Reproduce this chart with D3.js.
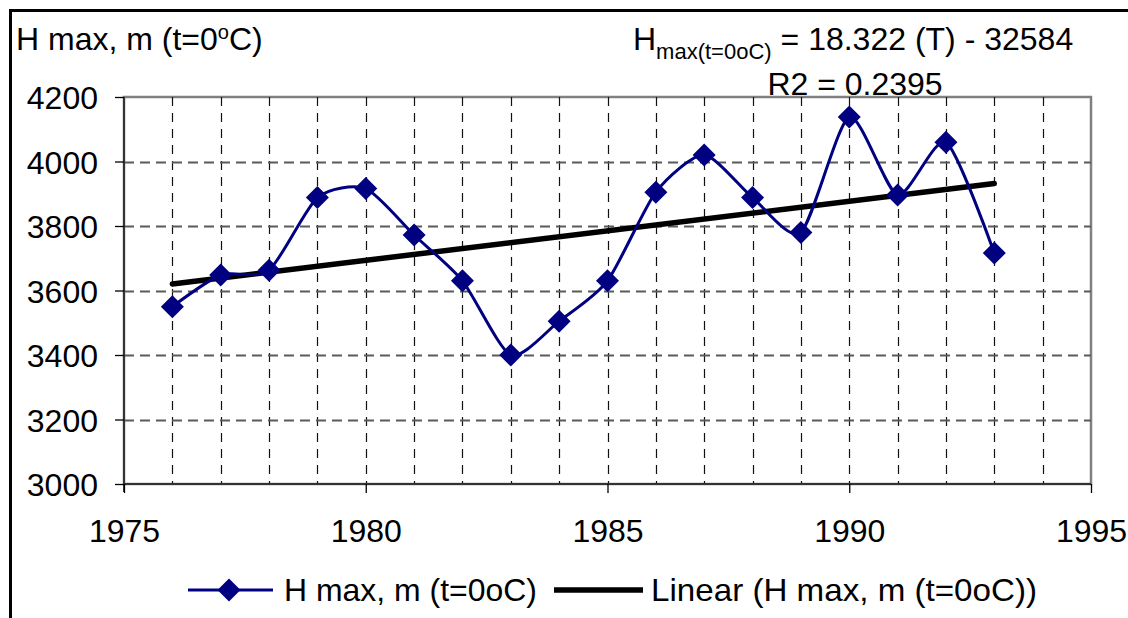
<!DOCTYPE html>
<html>
<head>
<meta charset="utf-8">
<script src="https://cdn.jsdelivr.net/npm/d3@7"></script>
<style>
  body { margin: 0; background: #fff; }
  svg text { font-family: "Liberation Sans", Arial, sans-serif; fill: #000; }
</style>
</head>
<body>
<svg id="chart" width="1128" height="618"></svg>
<script>
// data
const years = [1976, 1977, 1978, 1979, 1980, 1981, 1982, 1983, 1984, 1985,
               1986, 1987, 1988, 1989, 1990, 1991, 1992, 1993];
const hmax = [3550, 3648, 3663, 3888, 3916, 3772, 3630, 3400, 3505, 3630,
              3905, 4020, 3888, 3780, 4138, 3896, 4060, 3716];
const trendSlope = 18.322;
const trendIntercept = -32584;
const yTicks = [3000, 3200, 3400, 3600, 3800, 4000, 4200];
const xTicks = [1975, 1980, 1985, 1990, 1995];
const xMinor = d3.range(1976, 1995);

const svg = d3.select("#chart");
const W = 1128, H = 618;
const plot = { left: 124, right: 1091, top: 97, bottom: 484 };

const x = d3.scaleLinear().domain([1975, 1995]).range([plot.left, plot.right]);
const y = d3.scaleLinear().domain([3000, 4200]).range([plot.bottom, plot.top]);

// outer frame (top + left only visible)
svg.append("path")
    .attr("d", `M10.5,${H} L10.5,10.5 L${W},10.5`)
    .attr("fill", "none")
    .attr("stroke", "#000")
    .attr("stroke-width", 3);

// plot border (grey)
svg.append("rect")
    .attr("x", plot.left)
    .attr("y", plot.top)
    .attr("width", plot.right - plot.left)
    .attr("height", plot.bottom - plot.top)
    .attr("fill", "none")
    .attr("stroke", "#808080")
    .attr("stroke-width", 2.5);

// vertical dashed grid, every year
svg.append("g")
    .selectAll("line")
    .data(xMinor)
    .join("line")
    .attr("x1", d => Math.round(x(d)) + 0.5)
    .attr("x2", d => Math.round(x(d)) + 0.5)
    .attr("y1", plot.top)
    .attr("y2", plot.bottom)
    .attr("stroke", "#111")
    .attr("stroke-width", 1.2)
    .attr("stroke-dasharray", "9,7");

// horizontal dashed grid
svg.append("g")
    .selectAll("line")
    .data(yTicks.slice(1, -1))
    .join("line")
    .attr("x1", plot.left)
    .attr("x2", plot.right)
    .attr("y1", d => Math.round(y(d)) + 0.5)
    .attr("y2", d => Math.round(y(d)) + 0.5)
    .attr("stroke", "#5a5a5a")
    .attr("stroke-width", 1.8)
    .attr("stroke-dasharray", "10,6");

// y axis
const yAxis = svg.append("g")
    .attr("transform", `translate(${plot.left},0)`)
    .call(d3.axisLeft(y).tickValues(yTicks).tickSize(9).tickPadding(17).tickFormat(d3.format("d")));
yAxis.select(".domain").attr("stroke", "#333").attr("stroke-width", 2).attr("d", `M0,${plot.top}V${plot.bottom + 8}`);
yAxis.selectAll(".tick line").attr("stroke", "#000").attr("stroke-width", 1.3);
yAxis.selectAll(".tick text")
    .style("font-size", "32px")
    .attr("dy", "0.36em");

// x axis
const xAxis = svg.append("g")
    .attr("transform", `translate(0,${plot.bottom})`)
    .call(d3.axisBottom(x).tickValues(xTicks).tickSize(9).tickPadding(26).tickFormat(d3.format("d")));
xAxis.select(".domain").attr("stroke", "#333").attr("stroke-width", 2).attr("d", `M${plot.left},0H${plot.right}`);
xAxis.selectAll(".tick line").attr("stroke", "#000").attr("stroke-width", 1.3);
xAxis.selectAll(".tick text")
    .style("font-size", "32px");

// trend line
svg.append("line")
    .attr("x1", x(years[0]))
    .attr("x2", x(years[years.length - 1]))
    .attr("y1", y(trendSlope * years[0] + trendIntercept))
    .attr("y2", y(trendSlope * years[years.length - 1] + trendIntercept))
    .attr("stroke", "#000")
    .attr("stroke-width", 5.5)
    .attr("stroke-linecap", "round");

// smoothed data line
const line = d3.line()
    .x((d, i) => x(years[i]))
    .y(d => y(d))
    .curve(d3.curveCardinal.tension(0.3));

svg.append("path")
    .datum(hmax)
    .attr("d", line)
    .attr("fill", "none")
    .attr("stroke", "#000080")
    .attr("stroke-width", 3);

const diamond = "M0,-11.5 L11.5,0 L0,11.5 L-11.5,0 Z";
svg.append("g")
    .selectAll("path")
    .data(hmax)
    .join("path")
    .attr("transform", (d, i) => `translate(${x(years[i])},${y(d)})`)
    .attr("d", diamond)
    .attr("fill", "#000080");

// y title
const title = svg.append("text")
    .attr("x", 16)
    .attr("y", 50)
    .style("font-size", "32px");
title.append("tspan").text("H max, m (t=0");
title.append("tspan").text("o").style("font-size", "20px").attr("dy", -11);
title.append("tspan").text("C)").attr("dy", 11);

// equation
const eq = svg.append("text")
    .attr("x", 633)
    .attr("y", 50)
    .style("font-size", "32px");
eq.append("tspan").text("H");
eq.append("tspan").text("max(t=0oC)").style("font-size", "22px").attr("dy", 9);
eq.append("tspan").text(" = 18.322 (T) - 32584").attr("dy", -9);

svg.append("text")
    .attr("x", 855)
    .attr("y", 95)
    .attr("text-anchor", "middle")
    .style("font-size", "32px")
    .text("R2 = 0.2395");

// legend
const legY = 590;
const leg = svg.append("g");
leg.append("line")
    .attr("x1", 188).attr("x2", 273)
    .attr("y1", legY).attr("y2", legY)
    .attr("stroke", "#000080").attr("stroke-width", 3);
leg.append("path")
    .attr("transform", `translate(229,${legY})`)
    .attr("d", diamond)
    .attr("fill", "#000080");
leg.append("text")
    .attr("x", 284).attr("y", legY + 11)
    .attr("textLength", 253)
    .attr("lengthAdjust", "spacingAndGlyphs")
    .style("font-size", "32px")
    .text("H max, m (t=0oC)");
leg.append("line")
    .attr("x1", 554).attr("x2", 643)
    .attr("y1", legY).attr("y2", legY)
    .attr("stroke", "#000").attr("stroke-width", 5.5);
leg.append("text")
    .attr("x", 651).attr("y", legY + 11)
    .attr("textLength", 386)
    .attr("lengthAdjust", "spacingAndGlyphs")
    .style("font-size", "32px")
    .text("Linear (H max, m (t=0oC))");
</script>
</body>
</html>
